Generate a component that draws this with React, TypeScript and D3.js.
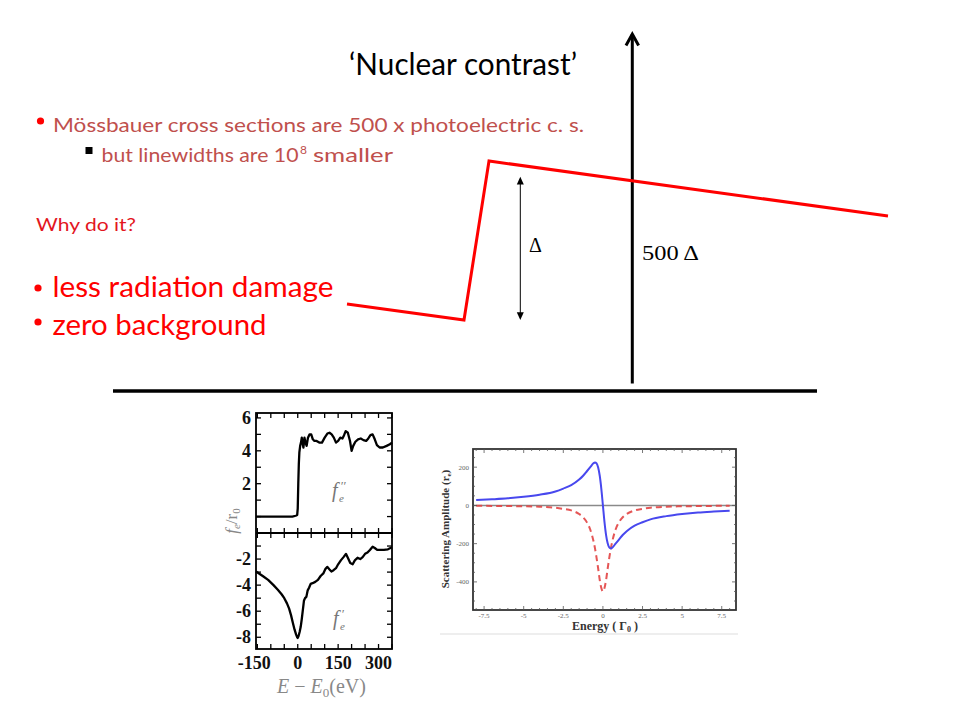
import React from 'react';
import * as d3 from 'd3';

// ---- Left inset: f'' (absorptive) and f' (dispersive) vs E - E0 (eV)
const fppE = [-155, -20, -8, -2, 0, 2, 4, 6, 9, 12, 15, 18, 21, 25, 29, 33, 38, 44, 50, 56, 62, 70, 80, 90, 100, 110, 118, 126, 134, 142, 150, 158, 166, 172, 178, 186, 194, 200, 206, 214, 224, 234, 244, 254, 262, 270, 278, 286, 294, 304, 316, 330, 342, 350];
const fppV = [0, 0, 0.05, 0.1, 0.5, 2.0, 3.2, 3.9, 4.3, 4.5, 4.8, 4.5, 4.2, 4.8, 4.5, 4.3, 4.8, 5.0, 5.0, 4.7, 4.6, 4.6, 4.5, 4.5, 4.8, 5.05, 5.1, 5.0, 4.8, 4.5, 4.6, 4.8, 4.75, 4.95, 5.2, 5.1, 4.6, 4.0, 4.3, 4.55, 4.7, 4.75, 4.65, 4.6, 4.75, 4.95, 5.0, 4.7, 4.35, 4.2, 4.2, 4.3, 4.4, 4.5];
const fpE = [-155, -130, -110, -90, -74, -60, -50, -40, -32, -25, -18, -12, -6, -2, 0, 3, 7, 11, 15, 19, 23, 27, 32, 37, 42, 48, 55, 65, 75, 85, 95, 103, 110, 118, 125, 133, 142, 150, 160, 170, 179, 186, 195, 204, 212, 222, 232, 241, 250, 259, 268, 278, 286, 295, 305, 320, 335, 350];
const fpV = [-2.95, -3.3, -3.6, -4.0, -4.35, -4.7, -5.0, -5.4, -5.8, -6.3, -6.9, -7.4, -7.8, -8.0, -8.05, -7.9, -7.6, -7.2, -6.6, -5.9, -5.2, -5.0, -4.9, -4.4, -4.2, -3.9, -3.85, -3.75, -3.6, -3.3, -3.1, -2.75, -2.6, -2.8, -2.95, -2.85, -2.7, -2.4, -2.1, -1.85, -1.6, -1.9, -2.3, -2.4, -2.1, -1.9, -2.0, -1.85, -1.6, -1.5, -1.3, -1.05, -1.15, -1.3, -1.3, -1.3, -1.25, -1.1];
const leftXTicks = [-150, 0, 150, 300];
const leftTopTicks = [2, 4, 6];
const leftBotTicks = [-2, -4, -6, -8];

// ---- Right inset: nuclear resonant scattering amplitude vs energy (Gamma0)
const resE = [-8, -7, -6, -5, -4, -3, -2.5, -2, -1.5, -1.25, -1, -0.8, -0.6, -0.5, -0.4, -0.3, -0.2, -0.1, 0, 0.1, 0.2, 0.3, 0.4, 0.5, 0.6, 0.8, 1, 1.25, 1.5, 2, 2.5, 3, 4, 5, 6, 7, 8];
const resReal = [28, 32, 37, 45, 56, 73, 88, 106, 135, 155, 180, 200, 220, 225, 220, 198, 155, 87, 0, -87, -155, -198, -220, -225, -220, -200, -180, -155, -135, -106, -88, -73, -56, -45, -37, -32, -28];
const resImag = [-2, -2.5, -3.5, -4.5, -7, -12, -18, -26, -45, -62, -90, -126, -185, -225, -275, -330, -390, -432, -450, -432, -390, -330, -275, -225, -185, -126, -90, -62, -45, -26, -18, -12, -7, -4.5, -3.5, -2.5, -2];
const rightXTicks = [-7.5, -5, -2.5, 0, 2.5, 5, 7.5];
const rightYTicks = [-400, -200, 0, 200];

// ---- Schematic absorption edge (slide coordinates)
const edgeX = [347, 464, 489, 888];
const edgeY = [304, 320, 161, 216];

const SANS = 'Lato, "Open Sans", sans-serif';
const SERIF = '"Liberation Serif", "DejaVu Serif", serif';

export default function App() {
  // left inset scales
  const xL = d3.scaleLinear().domain([-155, 350]).range([256, 392]);
  const yT = d3.scaleLinear().domain([-1, 6.3]).range([533, 413]);
  const yB = d3.scaleLinear().domain([-8.9, 0]).range([649, 533]);
  const lineT = d3.line<number>().x((_, i) => xL(fppE[i])).y((d) => yT(d));
  const lineB = d3.line<number>().x((_, i) => xL(fpE[i])).y((d) => yB(d));

  // right inset scales
  const xR = d3.scaleLinear().domain([-8.2, 8.4]).range([473, 736]);
  const yR = d3.scaleLinear().domain([-547, 295]).range([610, 449]);
  const lineRe = d3.line<number>().x((_, i) => xR(resE[i])).y((d) => yR(d)).curve(d3.curveMonotoneX);
  const lineIm = d3.line<number>().x((_, i) => xR(resE[i])).y((d) => yR(d)).curve(d3.curveMonotoneX);

  const edge = d3.line<number>().x((d) => d).y((_, i) => edgeY[i]);

  const xTicks50 = d3.range(-150, 351, 50);
  const topUnits = d3.range(0, 7, 1);
  const botUnits = d3.range(-1, -9, -1);
  const rxMinor = d3.range(-8, 8.01, 0.5);
  const ryMinor = d3.range(-500, 251, 50);

  return (
    <svg width={960} height={720} style={{ position: 'absolute', left: 0, top: 0, background: '#fff' }}>
      <rect x={0} y={0} width={960} height={720} fill="#fff" />

      {/* Title */}
      <text x={349} y={75} fontFamily={SANS} fontSize={31} fill="#000" textLength={228} lengthAdjust="spacingAndGlyphs">
        ‘Nuclear contrast’
      </text>

      {/* Bullets */}
      <circle cx={40.5} cy={121} r={3.6} fill="#ff0000" />
      <text x={53} y={132} fontFamily={SANS} fontSize={20} fill="#c0504d" textLength={531} lengthAdjust="spacingAndGlyphs">
        Mössbauer cross sections are 500 x photoelectric c. s.
      </text>
      <rect x={85.5} y={147} width={7} height={7} fill="#000" />
      <text x={101.5} y={162} fontFamily={SANS} fontSize={19} fill="#c0504d" textLength={197} lengthAdjust="spacingAndGlyphs">
        but linewidths are 10
      </text>
      <text x={300} y={154} fontFamily={SANS} fontSize={12} fill="#c0504d">8</text>
      <text x={313} y={162} fontFamily={SANS} fontSize={19} fill="#c0504d" textLength={80} lengthAdjust="spacingAndGlyphs">
        smaller
      </text>

      <text x={36} y={231} fontFamily={SANS} fontSize={18} fill="#e3161e" textLength={100} lengthAdjust="spacingAndGlyphs">
        Why do it?
      </text>

      <circle cx={38} cy={288} r={3.6} fill="#ff0000" />
      <text x={52.5} y={297} fontFamily={SANS} fontSize={28} fill="#ff0000" textLength={281} lengthAdjust="spacingAndGlyphs">
        less radiation damage
      </text>
      <circle cx={38} cy={322} r={3.6} fill="#ff0000" />
      <text x={52.5} y={335} fontFamily={SANS} fontSize={28} fill="#ff0000" textLength={214} lengthAdjust="spacingAndGlyphs">
        zero background
      </text>

      {/* Baseline and vertical arrow */}
      <line x1={113} y1={391} x2={817} y2={391} stroke="#000" strokeWidth={3.5} />
      <line x1={632.3} y1={34} x2={632.3} y2={383.5} stroke="#000" strokeWidth={3} />
      <path d="M626,45.5 L632.3,34 L638.6,45.5" fill="none" stroke="#000" strokeWidth={3} />

      {/* Schematic edge */}
      <path d={edge(edgeX) || ''} fill="none" stroke="#ff0000" strokeWidth={3} strokeLinejoin="miter" />

      {/* Delta double arrow */}
      <line x1={520.3} y1={183} x2={520.3} y2={314} stroke="#000" strokeWidth={1} />
      <path d="M520.3,176.7 L516.8,184.5 L523.8,184.5 Z" fill="#000" />
      <path d="M520.3,320 L516.8,312.3 L523.8,312.3 Z" fill="#000" />
      <text x={529} y={252} fontFamily={SERIF} fontSize={20} fill="#000">Δ</text>
      <text x={642} y={260} fontFamily={SERIF} fontSize={22} fill="#000" textLength={57} lengthAdjust="spacingAndGlyphs">500 Δ</text>

      {/* ===== Left inset ===== */}
      <g>
        <path d={lineT(fppV) || ''} fill="none" stroke="#000" strokeWidth={2.3} strokeLinejoin="round" />
        <path d={lineB(fpV) || ''} fill="none" stroke="#000" strokeWidth={2.3} strokeLinejoin="round" />
        <rect x={256} y={413} width={136} height={236} fill="none" stroke="#000" strokeWidth={1.8} />
        <line x1={256} y1={533} x2={392} y2={533} stroke="#000" strokeWidth={1.8} />
        {topUnits.map((v) => (
          <g key={'tu' + v}>
            <line x1={256} x2={261} y1={yT(v)} y2={yT(v)} stroke="#000" strokeWidth={1.3} />
            <line x1={392} x2={387} y1={yT(v)} y2={yT(v)} stroke="#000" strokeWidth={1.3} />
          </g>
        ))}
        {botUnits.map((v) => (
          <g key={'bu' + v}>
            <line x1={256} x2={261} y1={yB(v)} y2={yB(v)} stroke="#000" strokeWidth={1.3} />
            <line x1={392} x2={387} y1={yB(v)} y2={yB(v)} stroke="#000" strokeWidth={1.3} />
          </g>
        ))}
        {xTicks50.map((v) => (
          <g key={'xt' + v}>
            <line x1={xL(v)} x2={xL(v)} y1={649} y2={644} stroke="#000" strokeWidth={1.3} />
            <line x1={xL(v)} x2={xL(v)} y1={413} y2={418} stroke="#000" strokeWidth={1.3} />
            <line x1={xL(v)} x2={xL(v)} y1={528} y2={538} stroke="#000" strokeWidth={1.3} />
          </g>
        ))}
        {leftTopTicks.map((v) => (
          <text key={'lt' + v} x={251} y={yT(v) + 6} textAnchor="end" fontFamily={SERIF} fontWeight="bold" fontSize={18} fill="#111">
            {v}
          </text>
        ))}
        {leftBotTicks.map((v) => (
          <text key={'lb' + v} x={251} y={yB(v) + 6} textAnchor="end" fontFamily={SERIF} fontWeight="bold" fontSize={18} fill="#111">
            {'-' + Math.abs(v)}
          </text>
        ))}
        {leftXTicks.map((v) => (
          <text key={'lx' + v} x={xL(v) - (v < 0 ? 3 : 0)} y={669} textAnchor="middle" fontFamily={SERIF} fontWeight="bold" fontSize={18} fill="#111">
            {v < 0 ? '-' + Math.abs(v) : String(v)}
          </text>
        ))}
        {/* curve labels */}
        <text x={332} y={497} fontFamily={SERIF} fontStyle="italic" fontSize={20} fill="#777">f</text>
        <text x={340} y={490} fontFamily={SERIF} fontStyle="italic" fontSize={13} fill="#777">′′</text>
        <text x={339} y={502} fontFamily={SERIF} fontStyle="italic" fontSize={11} fill="#777">e</text>
        <text x={333} y={625} fontFamily={SERIF} fontStyle="italic" fontSize={20} fill="#777">f</text>
        <text x={341} y={618} fontFamily={SERIF} fontStyle="italic" fontSize={13} fill="#777">′</text>
        <text x={340} y={630} fontFamily={SERIF} fontStyle="italic" fontSize={11} fill="#777">e</text>
        {/* y label */}
        <g transform="translate(237,521) rotate(-90)">
          <text x={0} y={0} textAnchor="middle" fontFamily={SERIF} fontSize={17} fill="#888">
            <tspan fontStyle="italic">f</tspan>
            <tspan fontStyle="italic" fontSize={11} dy={3}>e</tspan>
            <tspan dy={-3}>/r</tspan>
            <tspan fontSize={11} dy={3}>0</tspan>
          </text>
        </g>
        {/* x label */}
        <text x={277} y={693} fontFamily={SERIF} fontSize={20} fill="#888">
          <tspan fontStyle="italic">E</tspan>
          <tspan> − </tspan>
          <tspan fontStyle="italic">E</tspan>
          <tspan fontSize={13} dy={4}>0</tspan>
          <tspan dy={-4}>(eV)</tspan>
        </text>
      </g>

      {/* ===== Right inset ===== */}
      <g>
        <line x1={473} x2={736} y1={yR(0)} y2={yR(0)} stroke="#8a8a8a" strokeWidth={1.5} />
        <path d={lineIm(resImag) || ''} fill="none" stroke="#e24444" strokeOpacity={0.9} strokeWidth={2} strokeDasharray="6,4" />
        <path d={lineRe(resReal) || ''} fill="none" stroke="#4848ee" strokeWidth={2} />
        <rect x={473} y={449} width={263} height={161} fill="none" stroke="#333" strokeWidth={1.8} />
        {rxMinor.map((v) => {
          const major = Math.abs((v / 2.5) - Math.round(v / 2.5)) < 1e-6;
          const len = major ? 4 : 2;
          return (
            <g key={'rx' + v}>
              <line x1={xR(v)} x2={xR(v)} y1={610} y2={610 - len} stroke="#555" strokeWidth={0.8} />
              <line x1={xR(v)} x2={xR(v)} y1={449} y2={449 + len} stroke="#555" strokeWidth={0.8} />
            </g>
          );
        })}
        {ryMinor.map((v) => {
          const major = v % 200 === 0;
          const len = major ? 4 : 2;
          return (
            <g key={'ry' + v}>
              <line x1={473} x2={473 + len} y1={yR(v)} y2={yR(v)} stroke="#555" strokeWidth={0.8} />
              <line x1={736} x2={736 - len} y1={yR(v)} y2={yR(v)} stroke="#555" strokeWidth={0.8} />
            </g>
          );
        })}
        {rightXTicks.map((v) => (
          <text key={'rxl' + v} x={xR(v)} y={617.5} textAnchor="middle" fontFamily={SERIF} fontSize={7} fill="#666">
            {v < 0 ? '-' + Math.abs(v) : String(v)}
          </text>
        ))}
        {rightYTicks.map((v) => (
          <text key={'ryl' + v} x={469} y={yR(v) + 2.5} textAnchor="end" fontFamily={SERIF} fontSize={7} fill="#666">
            {v < 0 ? '-' + Math.abs(v) : String(v)}
          </text>
        ))}
        <g transform="translate(449,529) rotate(-90)">
          <text x={0} y={0} textAnchor="middle" fontFamily={SERIF} fontWeight="bold" fontSize={11} fill="#333">
            Scattering Amplitude (r<tspan fontSize={7} dy={2}>e</tspan><tspan dy={-2}>)</tspan>
          </text>
        </g>
        <text x={605} y={629.5} textAnchor="middle" fontFamily={SERIF} fontWeight="bold" fontSize={12} fill="#333">
          Energy ( Γ<tspan fontSize={8} dy={2}>0</tspan><tspan dy={-2}> )</tspan>
        </text>
        <line x1={440} x2={738} y1={634} y2={634} stroke="#dddddd" strokeWidth={1} />
      </g>
    </svg>
  );
}
